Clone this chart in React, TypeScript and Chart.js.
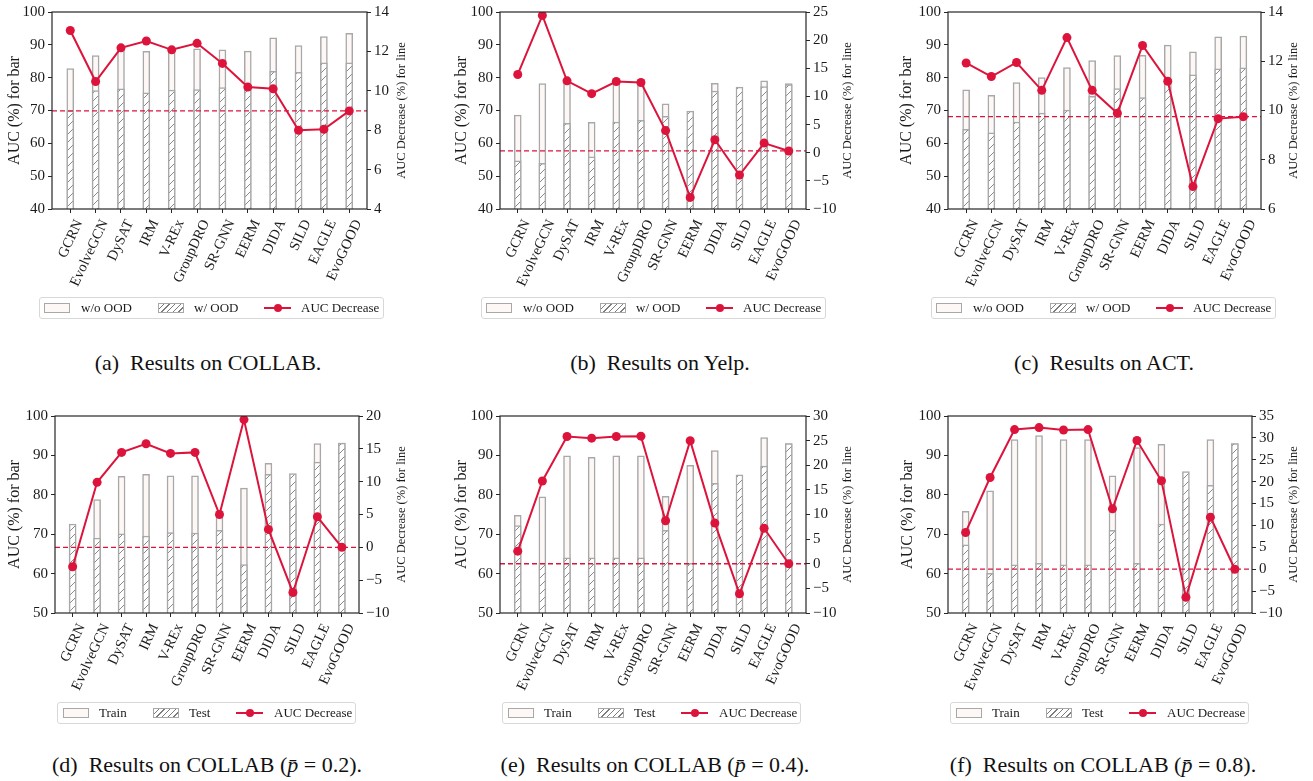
import React, { useEffect, useRef } from 'react';
import { Chart, registerables } from 'chart.js';

Chart.register(...registerables);

// ---------- data ----------
const categories = ['GCRN', 'EvolveGCN', 'DySAT', 'IRM', 'V-REx', 'GroupDRO', 'SR-GNN', 'EERM', 'DIDA', 'SILD', 'EAGLE', 'EvoGOOD'];

// (a) COLLAB
const collabWithoutOOD = [82.8, 86.7, 88.9, 88.0, 88.3, 88.8, 88.5, 88.1, 92.1, 89.8, 92.5, 93.5];
const collabWithOOD = [69.9, 76.1, 76.6, 75.4, 76.2, 76.4, 77.0, 77.9, 81.9, 81.6, 84.5, 84.5];
const collabDecrease = [13.06, 10.47, 12.18, 12.53, 12.08, 12.41, 11.39, 10.19, 10.1, 8.0, 8.05, 8.98];

// (b) Yelp
const yelpWithoutOOD = [68.6, 78.2, 78.9, 66.4, 79.1, 79.4, 72.0, 61.9, 78.3, 73.1, 79.0, 78.2];
const yelpWithOOD = [54.7, 53.9, 66.1, 55.9, 66.5, 67.0, 68.2, 69.8, 75.9, 77.1, 77.3, 77.9];
const yelpDecrease = [13.9, 24.4, 12.77, 10.49, 12.65, 12.48, 3.93, -7.94, 2.3, -3.96, 1.71, 0.31];

// (c) ACT
const actWithoutOOD = [76.3, 74.6, 78.5, 80.0, 83.1, 85.2, 86.7, 86.8, 89.9, 87.9, 92.4, 92.7];
const actWithOOD = [64.3, 63.2, 66.5, 69.2, 70.1, 74.3, 76.7, 73.9, 78.7, 80.9, 82.7, 83.0];
const actDecrease = [11.93, 11.38, 11.95, 10.82, 12.96, 10.82, 9.89, 12.64, 11.19, 6.91, 9.67, 9.75];

// (d) COLLAB p=0.2
const p02Train = [69.6, 78.8, 84.7, 85.2, 84.8, 84.8, 75.9, 81.7, 88.0, 78.5, 93.0, 93.1];
const p02Test = [72.6, 69.0, 70.1, 69.5, 70.4, 70.3, 71.0, 62.3, 85.2, 85.4, 88.3, 93.1];
const p02Decrease = [-2.95, 9.9, 14.46, 15.77, 14.3, 14.46, 5.0, 19.45, 2.73, -6.87, 4.65, 0.0];

// (e) COLLAB p=0.4
const p04Train = [74.8, 79.5, 89.9, 89.5, 89.9, 89.9, 79.6, 87.5, 91.2, 79.0, 94.5, 93.0];
const p04Test = [72.2, 62.7, 64.0, 64.0, 64.0, 64.0, 71.0, 62.6, 82.9, 85.1, 87.3, 93.0];
const p04Decrease = [2.55, 16.8, 25.84, 25.5, 25.84, 25.9, 8.72, 24.97, 8.26, -6.1, 7.2, 0.0];

// (f) COLLAB p=0.8
const p08Train = [75.8, 81.0, 94.0, 95.0, 94.0, 94.0, 84.8, 92.0, 92.8, 79.5, 94.0, 93.0];
const p08Test = [67.3, 60.1, 62.2, 62.6, 62.2, 62.2, 71.0, 62.6, 72.6, 85.9, 82.4, 93.0];
const p08Decrease = [8.4, 20.95, 31.9, 32.36, 31.8, 31.9, 13.8, 29.4, 20.2, -6.4, 11.9, 0.0];

const oodLegend = ['w/o OOD', 'w/ OOD', 'AUC Decrease'];
const splitLegend = ['Train', 'Test', 'AUC Decrease'];

// ---------- styles ----------
const RED = '#dc143c';
const EDGE = '#a8a8a8';
const LIGHT = '#fdf7f5';
const AXIS = '#262626';
const SERIF = '"Liberation Serif", "Times New Roman", serif';

type PanelDef = {
  L: number; R: number; T: number; B: number;
  barMin: number;
  lineMin: number; lineMax: number; lineStep: number;
  light: number[]; hatched: number[]; line: number[];
  legend: string[];
  legendLeft: number; legendWidth: number; legendTop: number;
  caption: React.ReactNode; captionCenter: number; captionTop: number;
  dxL: number; dxR: number;
};

const panels: PanelDef[] = [
  { L: 52, R: 367, T: 10, B: 209, barMin: 40, lineMin: 4, lineMax: 14, lineStep: 2,
    light: collabWithoutOOD, hatched: collabWithOOD, line: collabDecrease, legend: oodLegend,
    legendLeft: 39, legendWidth: 345, legendTop: 297,
    caption: <>(a)&nbsp; Results on COLLAB.</>, captionCenter: 208, captionTop: 350, dxL: 37, dxR: 35 },
  { L: 500, R: 806, T: 10, B: 209, barMin: 40, lineMin: -10, lineMax: 25, lineStep: 5,
    light: yelpWithoutOOD, hatched: yelpWithOOD, line: yelpDecrease, legend: oodLegend,
    legendLeft: 481, legendWidth: 345, legendTop: 297,
    caption: <>(b)&nbsp; Results on Yelp.</>, captionCenter: 660, captionTop: 350, dxL: 38, dxR: 42 },
  { L: 948, R: 1261, T: 10, B: 209, barMin: 40, lineMin: 6, lineMax: 14, lineStep: 2,
    light: actWithoutOOD, hatched: actWithOOD, line: actDecrease, legend: oodLegend,
    legendLeft: 931, legendWidth: 345, legendTop: 297,
    caption: <>(c)&nbsp; Results on ACT.</>, captionCenter: 1104, captionTop: 350, dxL: 41, dxR: 33 },
  { L: 55, R: 359, T: 414, B: 613, barMin: 50, lineMin: -10, lineMax: 20, lineStep: 5,
    light: p02Train, hatched: p02Test, line: p02Decrease, legend: splitLegend,
    legendLeft: 57, legendWidth: 299, legendTop: 702,
    caption: <>(d)&nbsp; Results on COLLAB (<i>p&#772;</i> = 0.2).</>, captionCenter: 207, captionTop: 752, dxL: 40, dxR: 43 },
  { L: 500, R: 806, T: 414, B: 613, barMin: 50, lineMin: -10, lineMax: 30, lineStep: 5,
    light: p04Train, hatched: p04Test, line: p04Decrease, legend: splitLegend,
    legendLeft: 502, legendWidth: 299, legendTop: 702,
    caption: <>(e)&nbsp; Results on COLLAB (<i>p&#772;</i> = 0.4).</>, captionCenter: 655, captionTop: 752, dxL: 38, dxR: 42 },
  { L: 948, R: 1252, T: 414, B: 613, barMin: 50, lineMin: -10, lineMax: 35, lineStep: 5,
    light: p08Train, hatched: p08Test, line: p08Decrease, legend: splitLegend,
    legendLeft: 950, legendWidth: 299, legendTop: 702,
    caption: <>(f)&nbsp; Results on COLLAB (<i>p&#772;</i> = 0.8).</>, captionCenter: 1103, captionTop: 752, dxL: 40, dxR: 42 },
];

const PAD_L = 50;
const PAD_R = 55;
const PAD_T = 10;
const PAD_B = 95;

function makeHatch(): CanvasPattern | string {
  const c = document.createElement('canvas');
  c.width = 8; c.height = 8;
  const g = c.getContext('2d');
  if (!g) return '#ffffff';
  g.fillStyle = '#ffffff';
  g.fillRect(0, 0, 8, 8);
  g.strokeStyle = '#7c7c7c';
  g.lineWidth = 0.9;
  g.beginPath();
  g.moveTo(0, 8); g.lineTo(8, 0);
  g.moveTo(-1, 1); g.lineTo(1, -1);
  g.moveTo(7, 9); g.lineTo(9, 7);
  g.stroke();
  return g.createPattern(c, 'repeat') || '#ffffff';
}

function Panel({ p }: { p: PanelDef }) {
  const ref = useRef<HTMLCanvasElement>(null);
  const w = p.R - p.L + PAD_L + PAD_R;
  const h = p.B - p.T + PAD_T + PAD_B;

  useEffect(() => {
    const canvas = ref.current;
    if (!canvas) return;
    const hatch = makeHatch();
    const pts = (arr: number[]) => arr.map((v, i) => ({ x: i, y: v }));
    const tickFont = { family: SERIF, size: 15 };
    const deco = {
      id: 'deco',
      afterDatasetDraw(chart: any, args: any) {
        if (args.index !== 1) return;
        const { ctx, chartArea } = chart;
        const refValue = p.line[p.line.length - 1];
        const py = chart.scales.y1.getPixelForValue(refValue);
        ctx.save();
        ctx.setLineDash([5, 3]);
        ctx.strokeStyle = RED;
        ctx.lineWidth = 1.3;
        ctx.beginPath();
        ctx.moveTo(chartArea.left, py);
        ctx.lineTo(chartArea.right, py);
        ctx.stroke();
        ctx.restore();
      },
      afterDraw(chart: any) {
        const { ctx, chartArea } = chart;
        ctx.save();
        ctx.strokeStyle = AXIS;
        ctx.lineWidth = 1.2;
        ctx.strokeRect(chartArea.left, chartArea.top, chartArea.right - chartArea.left, chartArea.bottom - chartArea.top);
        const midY = (chartArea.top + chartArea.bottom) / 2;
        ctx.fillStyle = '#1a1a1a';
        ctx.textAlign = 'center';
        ctx.textBaseline = 'middle';
        ctx.font = `16px ${SERIF}`;
        ctx.save();
        ctx.translate(chartArea.left - p.dxL, midY);
        ctx.rotate(-Math.PI / 2);
        ctx.fillText('AUC (%) for bar', 0, 0);
        ctx.restore();
        ctx.font = `12.5px ${SERIF}`;
        ctx.save();
        ctx.translate(chartArea.right + p.dxR, midY);
        ctx.rotate(-Math.PI / 2);
        ctx.fillText('AUC Decrease (%) for line', 0, 0);
        ctx.restore();
        ctx.restore();
      },
    };

    const chart = new Chart(canvas, {
      type: 'bar',
      data: {
        datasets: [
          {
            type: 'line',
            label: p.legend[2],
            data: pts(p.line),
            yAxisID: 'y1',
            xAxisID: 'x',
            borderColor: RED,
            backgroundColor: RED,
            borderWidth: 2,
            pointRadius: 4.5,
            pointBorderWidth: 0,
            pointBackgroundColor: RED,
            tension: 0,
            order: 0,
          } as any,
          {
            type: 'bar',
            label: p.legend[1],
            data: pts(p.hatched),
            yAxisID: 'y',
            xAxisID: 'x',
            backgroundColor: hatch,
            borderColor: EDGE,
            borderWidth: 1.5,
            barThickness: 7,
            grouped: false,
            order: 1,
          } as any,
          {
            type: 'bar',
            label: p.legend[0],
            data: pts(p.light),
            yAxisID: 'y',
            xAxisID: 'x',
            backgroundColor: LIGHT,
            borderColor: EDGE,
            borderWidth: 1.5,
            barThickness: 7,
            grouped: false,
            order: 2,
          } as any,
        ],
      },
      options: {
        animation: false,
        responsive: false,
        maintainAspectRatio: false,
        layout: { padding: { top: PAD_T, left: 0, right: 0, bottom: 0 } },
        plugins: { legend: { display: false }, tooltip: { enabled: false } },
        scales: {
          x: {
            type: 'linear',
            min: -0.72,
            max: 11.7,
            offset: false,
            afterBuildTicks: (s: any) => { s.ticks = categories.map((_, i) => ({ value: i })); },
            afterFit: (s: any) => { s.height = PAD_B; },
            ticks: {
              autoSkip: false,
              minRotation: 65,
              maxRotation: 65,
              padding: 4,
              labelOffset: 9,
              color: '#1a1a1a',
              font: { family: SERIF, size: 14.5 },
              callback: (v: any) => categories[Math.round(Number(v))] ?? '',
            },
            grid: { display: true, offset: false, drawOnChartArea: false, drawTicks: true, tickLength: 4, tickColor: AXIS, tickWidth: 1 },
            border: { display: false },
          },
          y: {
            type: 'linear',
            position: 'left',
            min: p.barMin,
            max: 100,
            afterFit: (s: any) => { s.width = PAD_L; },
            ticks: { stepSize: 10, color: '#1a1a1a', font: tickFont, padding: 3 },
            grid: { display: true, drawOnChartArea: false, drawTicks: true, tickLength: 4, tickColor: AXIS, tickWidth: 1 },
            border: { display: false },
          },
          y1: {
            type: 'linear',
            position: 'right',
            min: p.lineMin,
            max: p.lineMax,
            afterFit: (s: any) => { s.width = PAD_R; },
            ticks: {
              stepSize: p.lineStep,
              color: '#1a1a1a',
              font: tickFont,
              padding: 3,
              callback: (v: any) => String(v).replace('-', '\u2212'),
            },
            grid: { display: true, drawOnChartArea: false, drawTicks: true, tickLength: 4, tickColor: AXIS, tickWidth: 1 },
            border: { display: false },
          },
        },
      } as any,
      plugins: [deco as any],
    });
    return () => chart.destroy();
  }, [p]);

  return (
    <canvas
      ref={ref}
      width={w}
      height={h}
      style={{ position: 'absolute', left: p.L - PAD_L, top: p.T - PAD_T, width: w, height: h }}
    />
  );
}

function Legend({ p }: { p: PanelDef }) {
  const isOod = p.legend === oodLegend;
  const offs = isOod ? [4, 41, 118, 154, 224, 261] : [5, 41, 95, 131, 178, 216];
  const patchBase: React.CSSProperties = {
    position: 'absolute', top: 5, width: 26, height: 10, boxSizing: 'border-box', border: `1.5px solid ${EDGE}`,
  };
  const text: React.CSSProperties = { position: 'absolute', top: 0, lineHeight: '20px', whiteSpace: 'nowrap' };
  return (
    <div style={{
      position: 'absolute', left: p.legendLeft, top: p.legendTop, width: p.legendWidth, height: 22,
      boxSizing: 'border-box', border: '1px solid #d8d8d8', borderRadius: 3, background: '#fff',
      fontFamily: SERIF, fontSize: 13, color: '#1a1a1a',
    }}>
      <div style={{ ...patchBase, left: offs[0], background: LIGHT }} />
      <div style={{ ...text, left: offs[1] }}>{p.legend[0]}</div>
      <div style={{
        ...patchBase, left: offs[2],
        background: 'repeating-linear-gradient(135deg, #ffffff 0px, #ffffff 3px, #7c7c7c 3px, #7c7c7c 4px)',
      }} />
      <div style={{ ...text, left: offs[3] }}>{p.legend[1]}</div>
      <div style={{ position: 'absolute', left: offs[4], top: 9, width: 27, height: 2, background: RED }} />
      <div style={{ position: 'absolute', left: offs[4] + 9.5, top: 6, width: 8, height: 8, borderRadius: 4, background: RED }} />
      <div style={{ ...text, left: offs[5] }}>{p.legend[2]}</div>
    </div>
  );
}

function Caption({ p }: { p: PanelDef }) {
  return (
    <div style={{
      position: 'absolute', left: p.captionCenter - 220, width: 440, top: p.captionTop, textAlign: 'center',
      fontFamily: SERIF, fontSize: 22, color: '#111', whiteSpace: 'nowrap', lineHeight: '26px',
    }}>
      {p.caption}
    </div>
  );
}

export default function App() {
  return (
    <div style={{ position: 'absolute', left: 0, top: 0, width: 1313, height: 781, background: '#fff', overflow: 'hidden' }}>
      {panels.map((p, i) => (
        <React.Fragment key={i}>
          <Panel p={p} />
          <Legend p={p} />
          <Caption p={p} />
        </React.Fragment>
      ))}
    </div>
  );
}
